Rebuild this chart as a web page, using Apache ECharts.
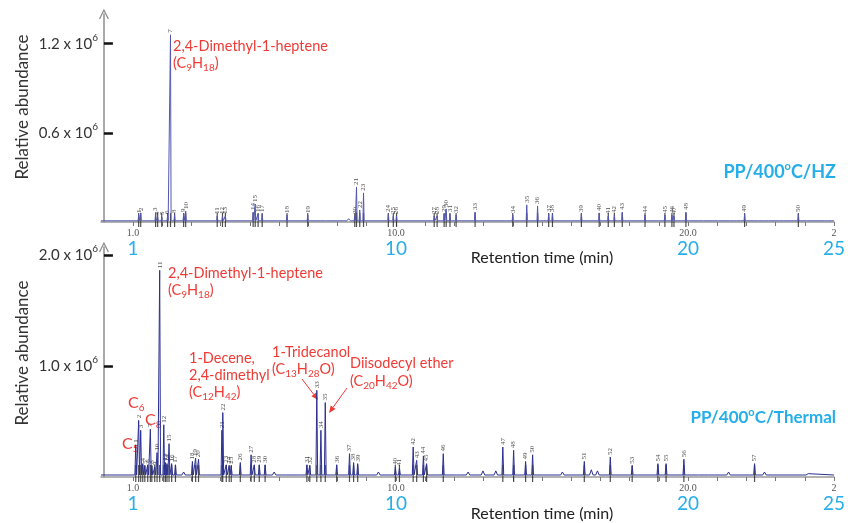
<!DOCTYPE html>
<html>
<head>
<meta charset="utf-8">
<script src="https://cdn.jsdelivr.net/npm/echarts@6/dist/echarts.min.js"></script>
<style>
  html, body { margin: 0; padding: 0; background: #fff; }
  #chart { width: 848px; height: 523px; }
</style>
</head>
<body>
<div id="chart"></div>
<script>
// ---- PP/400°C/HZ : numbered peaks (retention time in min, abundance in 10^6 counts)
const hzPeakNo = [1,2,3,4,5,6,7,8,9,10,11,12,13,14,15,16,17,18,19,20,21,22,23,24,25,26,27,28,29,30,31,32,33,34,35,36,37,38,39,40,41,42,43,44,45,46,47,48,49,50];
const hzPeakTime = [1.19,1.26,1.77,1.84,1.98,2.18,2.28,2.42,2.73,2.80,3.88,4.06,4.16,5.11,5.18,5.28,5.42,6.27,6.98,8.59,8.65,8.76,8.89,9.74,9.91,10.02,11.31,11.41,11.65,11.72,11.85,12.06,12.71,14.00,14.48,14.85,15.23,15.36,16.35,16.96,17.27,17.48,17.75,18.53,19.21,19.45,19.52,19.93,21.94,23.78];
const hzPeakAbund = [0.047,0.061,0.061,0.034,0.034,0.040,1.26,0.047,0.054,0.074,0.040,0.040,0.040,0.067,0.121,0.054,0.054,0.047,0.047,0.040,0.236,0.081,0.196,0.054,0.040,0.040,0.040,0.040,0.054,0.088,0.054,0.047,0.067,0.047,0.115,0.108,0.054,0.054,0.054,0.061,0.040,0.047,0.067,0.047,0.047,0.047,0.040,0.067,0.054,0.054];
// small unnumbered bumps on the HZ baseline
const hzMinorTime = [7.53,8.38,20.47,20.98,21.49,21.73,22.35,22.69,23.20,24.12,24.73];
const hzMinorAbund = [0.016,0.022,0.014,0.016,0.020,0.016,0.014,0.016,0.014,0.016,0.014];
const hzBase = 0.008;

// ---- PP/400°C/Thermal : numbered peaks
const thPeakNo = [1,2,3,4,5,6,7,8,9,10,11,12,13,14,15,16,17,18,19,20,21,22,23,24,25,26,27,28,29,30,31,32,33,34,35,36,37,38,39,40,41,42,43,44,45,46,47,48,49,50,51,52,53,54,55,56,57];
const thPeakTime = [1.09,1.19,1.26,1.33,1.40,1.50,1.59,1.64,1.74,1.82,1.91,2.05,2.11,2.16,2.23,2.32,2.45,3.03,3.14,3.24,4.04,4.07,4.19,4.29,4.36,4.67,5.04,5.15,5.32,5.52,6.95,7.05,7.29,7.43,7.58,7.97,8.41,8.55,8.69,9.98,10.12,10.59,10.71,10.94,11.05,11.62,13.66,14.03,14.44,14.68,16.45,17.34,18.09,18.97,19.25,19.86,22.28];
const thPeakAbund = [0.29,0.51,0.42,0.12,0.10,0.11,0.43,0.10,0.09,0.22,1.86,0.47,0.13,0.12,0.30,0.12,0.11,0.14,0.17,0.16,0.42,0.58,0.11,0.10,0.10,0.13,0.20,0.11,0.11,0.11,0.11,0.10,0.78,0.42,0.67,0.11,0.21,0.13,0.12,0.09,0.08,0.27,0.15,0.19,0.12,0.21,0.27,0.24,0.14,0.20,0.14,0.18,0.10,0.12,0.12,0.16,0.12];
// small unnumbered bumps on the Thermal baseline
const thMinorTime = [2.73,3.44,5.83,6.17,6.68,9.06,9.40,12.13,12.47,12.98,13.42,15.70,16.69,16.90,20.30,20.64,21.39,22.62,23.98,24.12];
const thMinorAbund = [0.045,0.035,0.045,0.035,0.035,0.035,0.045,0.035,0.045,0.055,0.055,0.045,0.065,0.055,0.035,0.030,0.045,0.045,0.030,0.030];
const thBase = 0.018;

// ---- axis ticks and labels
const timeTicks = [1, 10, 20, 25];
const timeTickText = ['1.0', '10.0', '20.0', '2'];
const minuteTicks = Array.from({ length: 25 }, (_, i) => i + 1);
const hzAbundTicks = [0.6, 1.2];
const thAbundTicks = [1.0, 2.0];

const RED = '#ef3a35';
const BLUE = '#25aee9';
const FONT = 'Lato, "Open Sans", sans-serif';
const CHEVRON = 'path://M0,12 L6,0 L12,12 L10.6,12.7 L6,3.2 L1.4,12.7 Z';

// Chromatogram trace: each peak drawn as a narrow spike on the baseline
function buildTrace(times, abund, minorT, minorA, base, w) {
  const pk = times.map((t, i) => [t, abund[i], w])
    .concat(minorT.map((t, i) => [t, minorA[i], 0.06]))
    .sort((a, b) => a[0] - b[0]);
  const pts = [[-0.1, base]];
  pk.forEach(([t, h, hw]) => { pts.push([t - hw, base], [t, h], [t + hw, base]); });
  pts.push([25, base]);
  return pts;
}

function xAxisFor(i) {
  return {
    type: 'value', gridIndex: i, min: -0.1, max: 25,
    axisLine: { onZero: false, lineStyle: { color: '#9a9a9a', width: 1.5 } },
    axisTick: { show: true, customValues: minuteTicks, length: 4, lineStyle: { color: '#777' } },
    axisLabel: {
      customValues: timeTicks, margin: 5,
      formatter: v => `{g|${timeTickText[timeTicks.indexOf(v)]}}\n{b|${v}}`,
      rich: {
        g: { fontSize: 10, fontFamily: '"Liberation Serif", serif', color: '#555', lineHeight: 12 },
        b: { fontSize: 19, fontFamily: FONT, color: BLUE, lineHeight: 20 }
      }
    },
    splitLine: { show: false }
  };
}

function yAxisFor(i, max, ticks) {
  return {
    type: 'value', gridIndex: i, min: 0, max: max,
    axisLine: { show: true, symbol: ['none', CHEVRON], symbolSize: [10, 12], lineStyle: { color: '#8c8c8c', width: 1.5 } },
    axisTick: { show: true, inside: true, length: 9, customValues: ticks, lineStyle: { color: '#111', width: 2.5 } },
    axisLabel: {
      customValues: ticks, margin: 3,
      formatter: v => `{m|${v.toFixed(1)} x 10}{p|6}`,
      rich: {
        m: { fontSize: 15, fontFamily: FONT, color: '#333', lineHeight: 22 },
        p: { fontSize: 10, fontFamily: FONT, color: '#333', lineHeight: 10, verticalAlign: 'top' }
      }
    },
    splitLine: { show: false }
  };
}

function panelSeries(i, times, abund, nos, minorT, minorA, base, w, color, markLen, markShift) {
  return [
    {
      type: 'line', xAxisIndex: i, yAxisIndex: i, symbol: 'none', silent: true,
      lineStyle: { color: color, width: 1 },
      data: buildTrace(times, abund, minorT, minorA, base, w)
    },
    {
      type: 'scatter', xAxisIndex: i, yAxisIndex: i, silent: true, clip: false,
      symbol: 'rect', symbolSize: [1.2, markLen], symbolOffset: [0, markShift],
      itemStyle: { color: '#222' },
      data: times.map(t => [t, 0])
    },
    {
      type: 'scatter', xAxisIndex: i, yAxisIndex: i, silent: true, clip: false,
      symbolSize: 0.1, itemStyle: { color: 'transparent' },
      label: {
        show: true, position: 'top', distance: 2, rotate: 90, align: 'left', verticalAlign: 'middle',
        formatter: p => p.name, fontSize: 7, fontFamily: '"Liberation Serif", serif', color: '#222'
      },
      data: times.map((t, k) => ({ value: [t, abund[k]], name: String(nos[k]) }))
    }
  ];
}

// ---- text overlays
const richRed = {
  s: { fontSize: 10, fontFamily: FONT, fill: RED, lineHeight: 10, verticalAlign: 'bottom' }
};
function redText(x, y, text, size) {
  return {
    type: 'text', x: x, y: y, silent: true,
    style: { text: text, fill: RED, fontSize: size || 14.5, fontFamily: FONT, lineHeight: 19,
             align: 'left', verticalAlign: 'middle', rich: richRed }
  };
}
function arrow(x1, y1, x2, y2) {
  const dx = x2 - x1, dy = y2 - y1, L = Math.hypot(dx, dy);
  const ux = dx / L, uy = dy / L, bx = x2 - 7 * ux, by = y2 - 7 * uy;
  return {
    type: 'group', silent: true,
    children: [
      { type: 'line', shape: { x1: x1, y1: y1, x2: bx, y2: by }, style: { stroke: RED, lineWidth: 1 } },
      { type: 'polygon', shape: { points: [[x2, y2], [bx - 3 * uy, by + 3 * ux], [bx + 3 * uy, by - 3 * ux]] }, style: { fill: RED } }
    ]
  };
}
function plainText(x, y, text, opts) {
  return {
    type: 'text', x: x, y: y, silent: true, rotation: opts.rotation || 0,
    style: Object.assign({ text: text, fontFamily: FONT, align: 'center', verticalAlign: 'middle' }, opts.style)
  };
}
const titleRich = {
  o: { fontSize: 11, fontFamily: FONT, fontWeight: 'bold', fill: BLUE, lineHeight: 22, verticalAlign: 'top' }
};

const graphics = [
  plainText(23, 107, 'Relative abundance', { rotation: Math.PI / 2, style: { fontSize: 17, fill: '#333' } }),
  plainText(23, 353, 'Relative abundance', { rotation: Math.PI / 2, style: { fontSize: 17, fill: '#333' } }),
  plainText(542, 258, 'Retention time (min)', { style: { fontSize: 16, fill: '#222' } }),
  plainText(542, 514, 'Retention time (min)', { style: { fontSize: 16, fill: '#222' } }),
  plainText(836, 172, 'PP/400{o|o}C/HZ', { style: { fontSize: 18, fontWeight: 'bold', fill: BLUE, align: 'right', lineHeight: 22, rich: titleRich } }),
  plainText(836, 418, 'PP/400{o|o}C/Thermal', { style: { fontSize: 17, fontWeight: 'bold', fill: BLUE, align: 'right', lineHeight: 22, rich: titleRich } }),
  redText(173, 46, '2,4-Dimethyl-1-heptene'),
  redText(173, 63, '(C{s|9}H{s|18})'),
  redText(168, 273, '2,4-Dimethyl-1-heptene'),
  redText(168, 290, '(C{s|9}H{s|18})'),
  redText(189, 358, '1-Decene,'),
  redText(189, 375, '2,4-dimethyl'),
  redText(189, 392, '(C{s|12}H{s|42})'),
  redText(272, 352, '1-Tridecanol'),
  redText(272, 369, '(C{s|13}H{s|28}O)'),
  redText(350, 363, 'Diisodecyl ether'),
  redText(350, 381, '(C{s|20}H{s|42}O)'),
  redText(128, 403, 'C{s|6}', 16),
  redText(145, 420, 'C{s|8}', 16),
  redText(122, 444, 'C{s|5}', 16),
  arrow(302, 379, 318, 400),
  arrow(347, 388, 329, 413)
];

const chart = echarts.init(document.getElementById('chart'), null, { renderer: 'canvas' });
chart.setOption({
  animation: false,
  backgroundColor: '#fff',
  grid: [
    { left: 101, right: 10, top: 14, height: 208 },
    { left: 101, right: 10, top: 247, height: 230 }
  ],
  xAxis: [xAxisFor(0), xAxisFor(1)],
  yAxis: [yAxisFor(0, 1.40, hzAbundTicks), yAxisFor(1, 2.07, thAbundTicks)],
  series: [].concat(
    panelSeries(0, hzPeakTime, hzPeakAbund, hzPeakNo, hzMinorTime, hzMinorAbund, hzBase, 0.02, '#5357b0', 14, -2),
    panelSeries(1, thPeakTime, thPeakAbund, thPeakNo, thMinorTime, thMinorAbund, thBase, 0.03, '#2c3091', 17, -3.5)
  ),
  graphic: graphics
});
</script>
</body>
</html>
